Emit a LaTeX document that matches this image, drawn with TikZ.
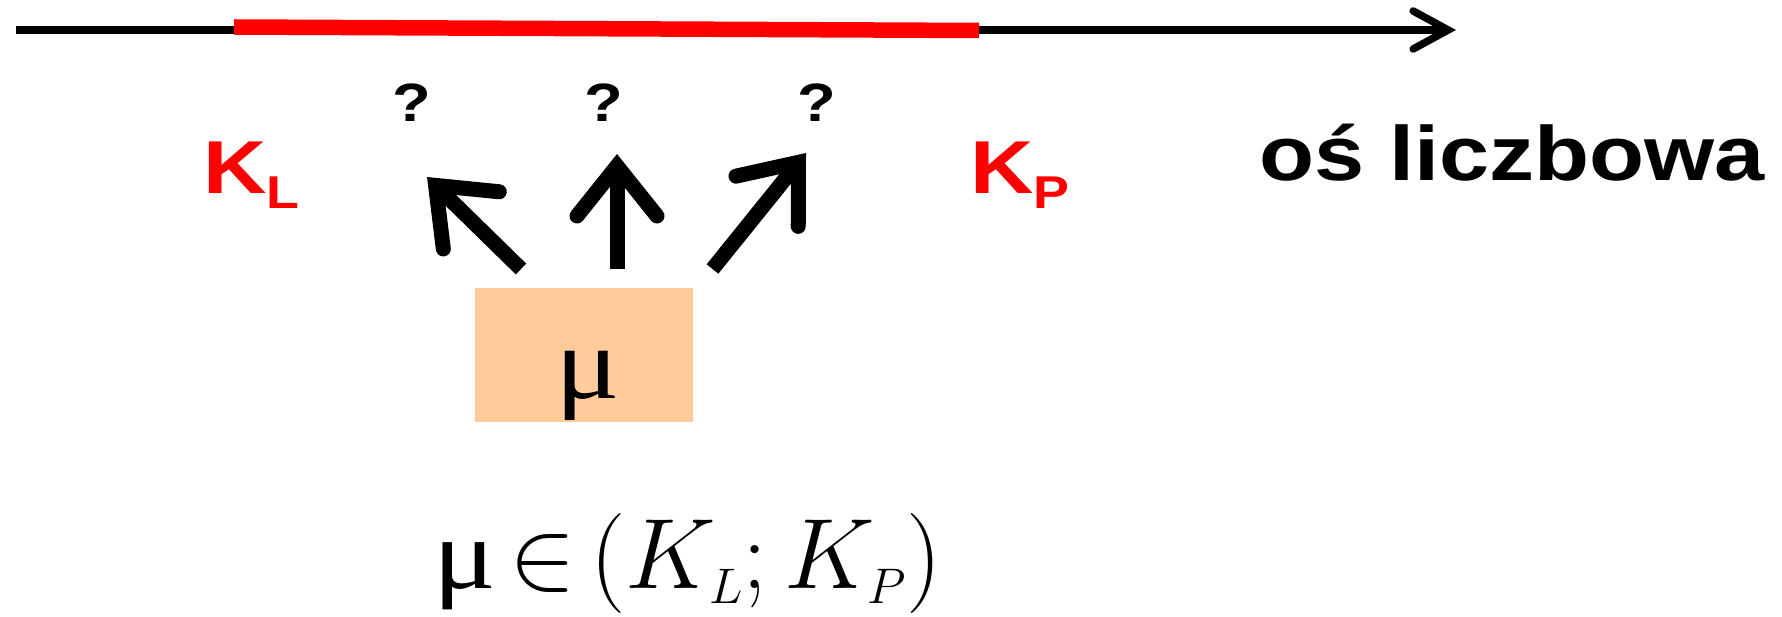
\RequirePackage{fix-cm}
\documentclass[tikz,border=0pt]{standalone}
\usepackage{fontspec}
\newfontfamily\labelfont[FakeStretch=1.17]{Liberation Sans}
\newfontfamily\greekfont[FakeStretch=1.17]{Liberation Serif}
\usepackage{xcolor}
\definecolor{bound}{HTML}{FF0000}
\definecolor{boxfill}{HTML}{FFCC99}
\usepackage{tikz}
\usetikzlibrary{arrows.meta}
\DeclareMathSizes{100}{100}{50}{40}

\begin{document}
\begin{tikzpicture}[x=1pt, y=-1pt,
  lbl/.style={inner sep=0pt, font=\labelfont\bfseries},
  axisline/.style={line width=7.5pt, -{Straight Barb[length=35pt, width=38pt, line cap=round, line join=miter]}},
  interval/.style={line width=15.5pt, bound},
  pick/.style={line width=15pt, -{Straight Barb[length=50pt, width=80pt, line cap=round, line join=miter]}}]
  \useasboundingbox (0,0) rectangle (1782,617);

  % number line with the interval
  \coordinate (axstart) at (16,30);
  \coordinate (axend) at (1456,30);
  \draw[axisline] (axstart) -- (axend);
  \coordinate (lo) at (234,27);
  \coordinate (hi) at (979,30.5);
  \draw[interval] (lo) -- (hi);

  \node[lbl, anchor=base west, text=bound, font=\labelfont\bfseries\fontsize{75}{75}\selectfont] (kl) at (203,194) {K\raisebox{-15pt}{\fontsize{46}{46}\selectfont L}};
  \node[lbl, anchor=base west, text=bound, font=\labelfont\bfseries\fontsize{75}{75}\selectfont] (kp) at (970,194) {K\raisebox{-15pt}{\fontsize{46}{46}\selectfont P}};
  \node[lbl, anchor=base west, font=\labelfont\bfseries\fontsize{77}{77}\selectfont] (axis) at (1259,181) {oś liczbowa};

  % question marks
  \node[lbl, anchor=base, font=\labelfont\bfseries\fontsize{54}{54}\selectfont] (q1) at (412,122) {?};
  \node[lbl, anchor=base, font=\labelfont\bfseries\fontsize{54}{54}\selectfont] (q2) at (604,122) {?};
  \node[lbl, anchor=base, font=\labelfont\bfseries\fontsize{54}{54}\selectfont] (q3) at (817,122) {?};

  % mu and the three guesses
  \node[fill=boxfill, minimum width=218pt, minimum height=134pt, inner sep=0pt] (mubox) at (584,355) {};
  \node[inner sep=0pt, anchor=base, font=\greekfont\fontsize{103}{103}\selectfont] (mu) at (588,398) {μ};

  \coordinate (b1) at (521,269);
  \coordinate (t1) at (427,177);
  \coordinate (b2) at (617,269);
  \coordinate (t2) at (617,154);
  \coordinate (b3) at (712.5,269);
  \coordinate (t3) at (806,153);
  \draw[pick] (b1) -- (t1);
  \draw[pick] (b2) -- (t2);
  \draw[pick] (b3) -- (t3);

  \node[inner sep=0pt, anchor=base west, font=\fontsize{100}{100}\selectfont] (rule) at (433,588) {\thickmuskip=2.5mu $\mbox{\greekfont μ}\in\bigl(K_L;K_P\bigr)$};
\end{tikzpicture}
\end{document}
